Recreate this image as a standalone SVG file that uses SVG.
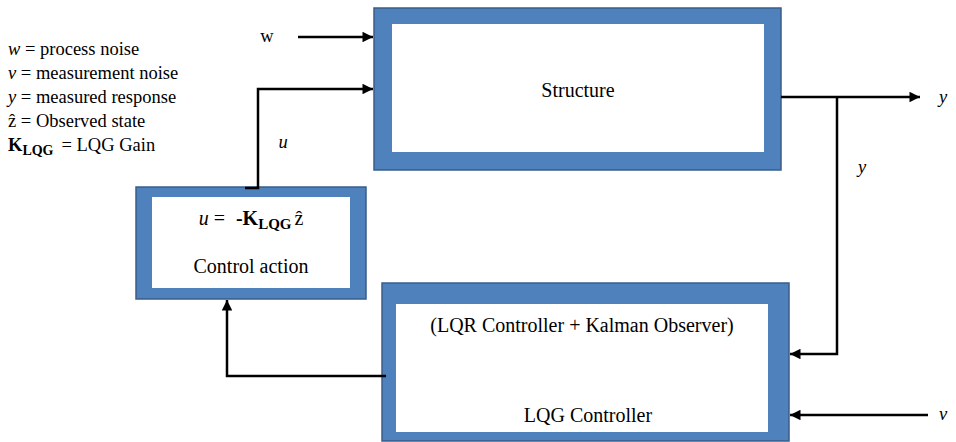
<svg xmlns="http://www.w3.org/2000/svg" width="956" height="442" viewBox="0 0 956 442" font-family="'Liberation Serif','DejaVu Serif',serif">
<defs>
<style>
text{font-family:"Liberation Serif","Tinos","DejaVu Serif",serif;fill:#000}
.lg{font-size:18.5px}
.bx{font-size:20px}
.m{font-style:italic}
.b{font-weight:bold}
.outer{fill:#4f81bd;stroke:#385d8a;stroke-width:1.5}
.inner{fill:#fff}
.wire{fill:none;stroke:#000;stroke-width:2.5}
</style>
<marker id="ah" viewBox="0 0 10 10" refX="10" refY="5" markerWidth="4.6" markerHeight="4.2" orient="auto" markerUnits="strokeWidth">
<path d="M0,0 L10,5 L0,10 z" fill="#000"/>
</marker>
</defs>
<rect width="956" height="442" fill="#fff"/>
<g id="legend" class="lg">
<text x="8" y="55" font-family="Liberation Serif, serif"><tspan class="m">w</tspan> = process noise</text>
<text x="8" y="79" font-family="Liberation Serif, serif"><tspan class="m">v</tspan> = measurement noise</text>
<text x="8" y="103" font-family="Liberation Serif, serif"><tspan class="m">y</tspan> = measured response</text>
<text x="8" y="127" font-family="Liberation Serif, serif">ẑ = Observed state</text>
<text x="8" y="151" font-family="Liberation Serif, serif"><tspan class="b">K</tspan><tspan class="b" font-size="14" dy="4">LQG</tspan><tspan dx="8" dy="-4">= LQG Gain</tspan></text>
</g>
<g id="structure">
<rect class="outer" x="374" y="8" width="407" height="162"/>
<rect class="inner" x="392" y="24" width="372" height="128"/>
<text class="bx" x="578" y="97" text-anchor="middle" font-family="Liberation Serif, serif">Structure</text>
</g>
<g id="control-action">
<rect class="outer" x="136" y="187" width="230" height="112"/>
<rect class="inner" x="152" y="197" width="198" height="91"/>
<text class="bx" x="251" y="225" text-anchor="middle" font-family="Liberation Serif, serif"><tspan class="m">u</tspan> = <tspan class="b" dx="6">-K</tspan><tspan class="b" font-size="15" dy="4">LQG</tspan><tspan dx="3" dy="-4">ẑ</tspan></text>
<text class="bx" x="251" y="273" text-anchor="middle" font-family="Liberation Serif, serif">Control action</text>
</g>
<g id="lqg-controller">
<rect class="outer" x="382" y="283" width="407" height="158"/>
<rect class="inner" x="396" y="304" width="372" height="128"/>
<text class="bx" x="582" y="332" text-anchor="middle" font-family="Liberation Serif, serif">(LQR Controller + Kalman Observer)</text>
<text class="bx" x="588" y="422" text-anchor="middle" font-family="Liberation Serif, serif">LQG Controller</text>
</g>
<g id="connectors">
<line class="wire" x1="298" y1="37" x2="373" y2="37" marker-end="url(#ah)"/>
<polyline class="wire" points="245,188 258,188 258,89 373,89" marker-end="url(#ah)"/>
<line class="wire" x1="781" y1="97" x2="920" y2="97" marker-end="url(#ah)"/>
<polyline class="wire" points="837,97 837,354 790,354" marker-end="url(#ah)"/>
<line class="wire" x1="928" y1="415" x2="790" y2="415" marker-end="url(#ah)"/>
<polyline class="wire" points="386,376 227,376 227,300" marker-end="url(#ah)"/>
</g>
<g id="labels" class="lg">
<text x="267" y="42" text-anchor="middle" font-family="Liberation Serif, serif">w</text>
<text class="m" x="283" y="148" text-anchor="middle" font-family="Liberation Serif, serif">u</text>
<text class="m" x="862" y="173" text-anchor="middle" font-family="Liberation Serif, serif">y</text>
<text class="m" x="943" y="103" text-anchor="middle" font-family="Liberation Serif, serif">y</text>
<text class="m" x="943" y="420" text-anchor="middle" font-family="Liberation Serif, serif">v</text>
</g>
</svg>
